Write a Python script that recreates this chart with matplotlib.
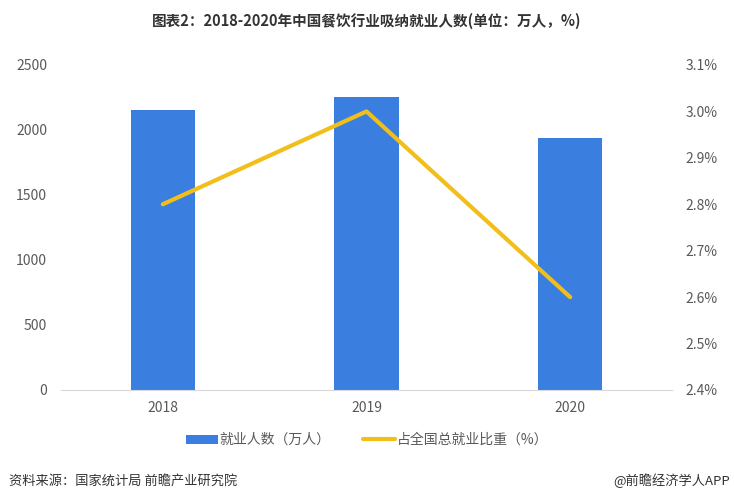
import numpy as np
import matplotlib.pyplot as plt

plt.rcParams["font.family"] = ["Noto Sans CJK SC", "DejaVu Sans"]

years = ["2018", "2019", "2020"]
employed = [2150, 2255, 1940]          # 万人
share = [2.8, 3.0, 2.6]                # %

fig = plt.figure(figsize=(7.34, 5.03), dpi=100)
ax = fig.add_axes([0.0831, 0.2247, 0.8324, 0.6461])
ax2 = ax.twinx()

x = np.arange(len(years))
ax.bar(x, employed, width=0.315, color="#3A7FE0", label="就业人数（万人）", zorder=2)
ax2.plot(x, share, color="#F2BE1A", lw=3, solid_capstyle="round", label="占全国总就业比重（%）")

ax.set_xlim(-0.5, 2.5)
ax.set_ylim(0, 2500)
ax.set_yticks(range(0, 2501, 500))
ax2.set_ylim(2.4, 3.1)
ax2.set_yticks(np.arange(2.4, 3.11, 0.1))
ax2.set_yticklabels([f"{v:.1f}%" for v in np.arange(2.4, 3.11, 0.1)])
ax.set_xticks(x)
ax.set_xticklabels(years)

for a in (ax, ax2):
    for s in a.spines.values():
        s.set_visible(False)
    a.tick_params(length=0, labelsize=10, colors="#595959")
ax.spines["bottom"].set_visible(True)
ax.spines["bottom"].set_color("#D9D9D9")
ax.tick_params(axis="y", pad=10)
ax2.tick_params(axis="y", pad=10)
ax.tick_params(axis="x", pad=8)

fig.text(0.5, 0.958, "图表2：2018-2020年中国餐饮行业吸纳就业人数(单位：万人，%)",
         ha="center", va="center", fontsize=10.5, fontweight="bold", color="#333333")

h1, l1 = ax.get_legend_handles_labels()
h2, l2 = ax2.get_legend_handles_labels()
fig.legend(h1 + h2, l1 + l2, loc="center", bbox_to_anchor=(0.5, 0.125), ncol=2,
           frameon=False, fontsize=10, handlelength=2.3, handleheight=0.6,
           handletextpad=0.15, columnspacing=2.3, labelcolor="#595959")

fig.text(0.012, 0.044, "资料来源：国家统计局 前瞻产业研究院", ha="left", va="center",
         fontsize=9.5, color="#333333")
fig.text(0.995, 0.044, "@前瞻经济学人APP", ha="right", va="center",
         fontsize=9.5, color="#333333")

fig.savefig("out.png", dpi=100)
